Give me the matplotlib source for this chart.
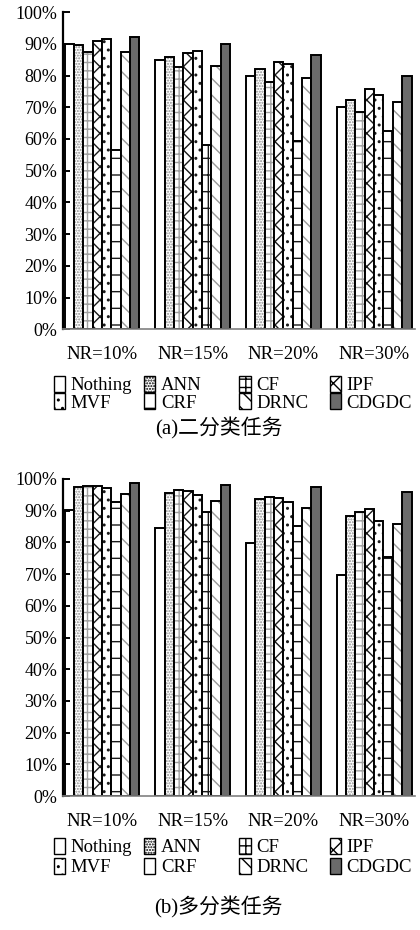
import matplotlib.pyplot as plt
import numpy as np
from matplotlib.patches import Patch

plt.rcParams['font.family'] = ['Liberation Serif', 'Noto Sans CJK SC']
plt.rcParams['hatch.linewidth'] = 1.0

groups = ["NR=10%", "NR=15%", "NR=20%", "NR=30%"]
methods = ["Nothing", "ANN", "CF", "IPF", "MVF", "CRF", "DRNC", "CDGDC"]

# accuracy (%) per method, one value per noise ratio
binary_acc = {
    "Nothing": [90.0, 84.8, 79.7, 70.1],
    "ANN":     [89.7, 85.8, 82.0, 72.2],
    "CF":      [87.4, 82.7, 77.9, 68.5],
    "IPF":     [90.8, 87.2, 84.2, 75.8],
    "MVF":     [91.6, 87.6, 83.7, 73.7],
    "CRF":     [56.4, 58.0, 59.2, 62.5],
    "DRNC":    [87.4, 83.1, 79.2, 71.7],
    "CDGDC":   [92.1, 89.9, 86.6, 80.0],
}
multi_acc = {
    "Nothing": [90.2, 84.6, 79.7, 69.7],
    "ANN":     [97.6, 95.7, 93.6, 88.3],
    "CF":      [97.9, 96.5, 94.4, 89.7],
    "IPF":     [97.8, 96.2, 94.1, 90.4],
    "MVF":     [97.1, 95.0, 92.6, 86.8],
    "CRF":     [92.6, 89.5, 85.2, 75.3],
    "DRNC":    [95.3, 92.9, 90.7, 85.7],
    "CDGDC":   [98.6, 98.1, 97.4, 96.0],
}

# (facecolor, hatch, hatch colour)
styles = {
    "Nothing": ("white", "", "white"),
    "ANN":     ("white", "......", "#8c8c8c"),
    "CF":      ("white", "++", "#a0a0a0"),
    "IPF":     ("white", "xx", "#1a1a1a"),
    "MVF":     ("white", "..", "#1a1a1a"),
    "CRF":     ("white", "+", "#1a1a1a"),
    "DRNC":    ("white", "\\\\", "#9a9a9a"),
    "CDGDC":   ("#6b6b6b", "", "#6b6b6b"),
}

fig = plt.figure(figsize=(4.2, 9.3), dpi=100)
ax_a = fig.add_axes([0.150, 0.646, 0.838, 0.341])
ax_b = fig.add_axes([0.150, 0.144, 0.838, 0.341])

x = np.arange(len(groups))
w = 0.103


def draw_panel(ax, data):
    for i, m in enumerate(methods):
        fc, hatch, hc = styles[m]
        pos = x + (i - 3.5) * w
        ax.bar(pos, data[m], w, color=fc, hatch=hatch, edgecolor=hc, linewidth=0)
        ax.bar(pos, data[m], w, fill=False, edgecolor="black", linewidth=1.4)
    ax.set_xlim(-0.43, 3.45)
    ax.set_ylim(0, 100)
    ax.set_yticks(np.arange(0, 101, 10))
    ax.set_yticklabels([f"{v}%" for v in range(0, 101, 10)], fontsize=13)
    ax.set_xticks(x)
    ax.set_xticklabels(groups, fontsize=13.5)
    ax.tick_params(axis="y", direction="in", length=5, width=1.4, pad=4)
    ax.tick_params(axis="x", length=0, pad=12)
    for s in ["top", "right"]:
        ax.spines[s].set_visible(False)
    ax.spines["left"].set_linewidth(1.6)
    ax.spines["bottom"].set_color("#808080")
    ax.spines["bottom"].set_linewidth(1.2)


def add_legend(y_top, spacing):
    # one small legend per column: top row Nothing/ANN/CF/IPF, bottom row MVF/CRF/DRNC/CDGDC
    col_x = [0.128, 0.343, 0.570, 0.785]
    for c in range(4):
        pair = [methods[c], methods[c + 4]]
        hs = []
        for m in pair:
            fc, hatch, hc = styles[m]
            hs.append(Patch(facecolor=fc, hatch=hatch, edgecolor="black", linewidth=1.0))
        fig.legend(hs, pair, loc="upper left", bbox_to_anchor=(col_x[c], y_top),
                   frameon=False, fontsize=13.5, handlelength=0.6, handleheight=0.9,
                   handletextpad=0.3, labelspacing=spacing, borderpad=0, borderaxespad=0)


draw_panel(ax_a, binary_acc)
draw_panel(ax_b, multi_acc)
add_legend(1 - 376 / 930, -0.05)
add_legend(1 - 838 / 930, 0.1)

fig.text(0.52, 0.539, "(a)二分类任务", ha="center", va="center", fontsize=15)
fig.text(0.52, 0.024, "(b)多分类任务", ha="center", va="center", fontsize=15)

fig.savefig("out.png", dpi=100)
